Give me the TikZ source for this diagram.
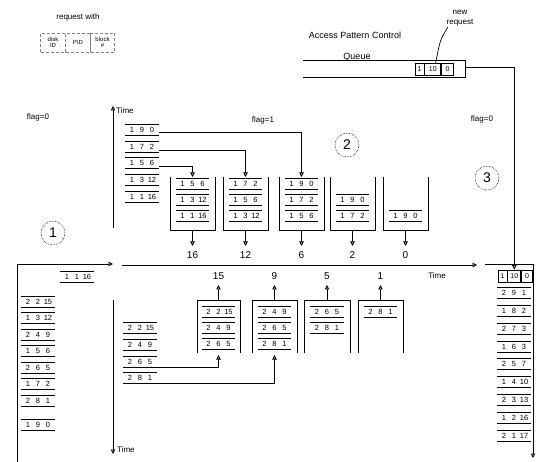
\documentclass[tikz,border=0pt]{standalone}
\usepackage{fontspec}
\setmainfont{Liberation Sans}
\usetikzlibrary{arrows.meta}
\newcommand\rsl[1]{\makebox[10pt]{#1}}
\newcommand\recnode[5]{%
  \node[rec] (#1) at (#2) {\rsl{#3}\rsl{#4}\rsl{#5}};
  \draw[recl] (#1.north west) -- (#1.north east);
  \draw[recl] (#1.south west) -- (#1.south east);}
\tikzset{
  rec/.style={inner sep=0pt, minimum width=33pt, minimum height=11pt, font=\fontsize{7.5}{8}\selectfont},
  recl/.style={line width=0.6pt},
  wire/.style={line width=0.9pt},
  arr/.style={wire, -{Triangle[open, length=4.5pt, width=4.5pt]}},
  openbox/.style={line width=0.9pt},
  lbl/.style={font=\fontsize{8}{9.5}\selectfont, inner sep=0pt},
  lblb/.style={font=\fontsize{9}{10}\selectfont, inner sep=0pt},
  num/.style={font=\fontsize{10}{11}\selectfont, inner sep=0pt},
  circ/.style={circle, draw, densely dotted, line width=0.6pt, minimum size=24pt, inner sep=0pt, font=\fontsize{14}{14}\selectfont},
  cell/.style={draw, line width=0.8pt, minimum height=12pt, inner sep=0pt, font=\fontsize{7}{8}\selectfont},
  fld/.style={draw, densely dashed, gray, text=black, line width=0.5pt, minimum height=19pt, inner sep=0pt, align=center, font=\fontsize{6}{6.5}\selectfont},
}
\begin{document}
\begin{tikzpicture}[x=1pt,y=-1pt]
\useasboundingbox (0,0) rectangle (538,462);

% request format
\node[lbl] (reqw) at (78,17) {request with};
\node[fld, minimum width=25pt] (fdisk) at (53,42.5) {disk\\ID};
\node[fld, minimum width=25pt] (fpid) at (78,42.5) {PID};
\node[fld, minimum width=24pt] (fblock) at (102.5,42.5) {block\\\#};

% queue
\node[lblb] (apc) at (355,35) {Access Pattern Control};
\node[lblb] (qlab) at (357,57) {Queue};
\coordinate (q0) at (303,60);
\coordinate (q1) at (465,60);
\coordinate (q2) at (465,77);
\coordinate (q3) at (303,77);
\coordinate (qend) at (465,67);
\draw[wire] (q0) -- (q1) -- (q2) -- (q3);
\node[cell, minimum width=9pt] (qa) at (419.5,69) {1};
\node[cell, minimum width=16pt, anchor=west] (qb) at (qa.east) {10};
\node[cell, minimum width=12pt, anchor=west] (qc) at (qb.east) {0};
\node[lbl, align=center] (newreq) at (460,18) {new\\request};
\draw[line width=0.7pt] ([xshift=-12pt,yshift=-1pt]newreq.south) .. controls (440,40) .. ([xshift=3pt]qb.north);

% right column
\node[cell, minimum width=9pt] (ra) at (502.5,276) {1};
\node[cell, minimum width=13pt, anchor=west] (rb) at (ra.east) {10};
\node[cell, minimum width=11pt, anchor=west] (rc) at (rb.east) {0};
\draw[arr] (qend) -| (rb.north);
\node[lbl] (flagr) at (482,119) {flag=0};
\node[circ] (c3) at (487,178) {3};
\recnode{r2}{514,293}{2}{9}{1}
\recnode{r3}{514,311}{1}{8}{2}
\recnode{r4}{514,329}{2}{7}{3}
\recnode{r5}{514,347}{1}{6}{3}
\recnode{r6}{514,364}{2}{5}{7}
\recnode{r7}{514,382}{1}{4}{10}
\recnode{r8}{514,400}{2}{3}{13}
\recnode{r9}{514,418}{1}{2}{16}
\recnode{r10}{514,436}{2}{1}{17}
\coordinate (rf0) at (485,264);
\coordinate (rf1) at (533,264);
\coordinate (rf2) at (533,458);
\draw[wire] (rf0) -- (rf1);
\draw[arr] (rf1) -- (rf2);

% main time axis
\coordinate (ax0) at (122,265);
\coordinate (ax1) at (477,265);
\draw[arr] (ax0) -- (ax1);
\node[lbl] (taxis) at (437,276) {Time};

% left frame
\coordinate (lf0) at (17,462);
\coordinate (lf1) at (17,264);
\coordinate (lf2) at (113,264);
\draw[arr] (lf0) -- (lf1) -- (lf2);
\node[lbl] (flagl) at (38,117) {flag=0};
\node[circ] (c1) at (53,233) {1};
\node[lbl] (flag1) at (263,120) {flag=1};
\node[circ] (c2) at (347,145) {2};

% upper vertical axis
\coordinate (uv0) at (113,228);
\coordinate (uv1) at (113,106);
\draw[arr] (uv0) -- (uv1);
\node[lbl, anchor=west] (ut) at (116,111) {Time};

% upper stack
\recnode{s1}{142,130}{1}{9}{0}
\recnode{s2}{142,147}{1}{7}{2}
\recnode{s3}{142,163}{1}{5}{6}
\recnode{s4}{142,180}{1}{3}{12}
\recnode{s5}{142,197}{1}{1}{16}

% upper boxes (open top)
\draw[openbox] (170,177) -- (170,230) -- (215,230) -- (215,177);
\draw[openbox] (223,177) -- (223,230) -- (268,230) -- (268,177);
\draw[openbox] (279,177) -- (279,230) -- (324,230) -- (324,177);
\draw[openbox] (330,177) -- (330,230) -- (375,230) -- (375,177);
\draw[openbox] (383,177) -- (383,230) -- (428,230) -- (428,177);
\coordinate (b1in) at (192.5,177);
\coordinate (b2in) at (245.5,177);
\coordinate (b3in) at (301.5,177);
\foreach \n/\x in {1/192.5,2/245.5,3/301.5,4/352.5,5/405.5}{
  \coordinate (b\n bot) at (\x,230);
  \coordinate (b\n out) at (\x,246);
}
\draw[arr] ([yshift=-3pt]s3.east) -| (b1in);
\draw[arr] ([yshift=-3pt]s2.east) -| (b2in);
\draw[arr] ([yshift=-2pt]s1.east) -| (b3in);
\recnode{b1r1}{192.5,184}{1}{5}{6}
\recnode{b1r2}{192.5,200}{1}{3}{12}
\recnode{b1r3}{192.5,216}{1}{1}{16}
\recnode{b2r1}{245.5,184}{1}{7}{2}
\recnode{b2r2}{245.5,200}{1}{5}{6}
\recnode{b2r3}{245.5,216}{1}{3}{12}
\recnode{b3r1}{301.5,184}{1}{9}{0}
\recnode{b3r2}{301.5,200}{1}{7}{2}
\recnode{b3r3}{301.5,216}{1}{5}{6}
\recnode{b4r2}{352.5,200}{1}{9}{0}
\recnode{b4r3}{352.5,216}{1}{7}{2}
\recnode{b5r3}{405.5,216}{1}{9}{0}
\foreach \n in {1,...,5}{\draw[arr] (b\n bot) -- (b\n out);}
\node[num] (n16) at (192.5,255) {16};
\node[num] (n12) at (245.5,255) {12};
\node[num] (n6) at (301.5,255) {6};
\node[num] (n2) at (352.5,255) {2};
\node[num] (n0) at (405.5,255) {0};

% lower vertical axis
\coordinate (lv0) at (113,300);
\coordinate (lv1) at (113,454);
\draw[arr] (lv0) -- (lv1);
\node[lbl, anchor=west] (lt) at (117,450) {Time};

% lower stack
\recnode{t1}{140,328}{2}{2}{15}
\recnode{t2}{140,345}{2}{4}{9}
\recnode{t3}{140,362}{2}{6}{5}
\recnode{t4}{140,378}{2}{8}{1}

% lower boxes (open bottom)
\draw[openbox] (197,353) -- (197,300) -- (240,300) -- (240,353);
\draw[openbox] (252,353) -- (252,300) -- (297,300) -- (297,353);
\draw[openbox] (304,353) -- (304,300) -- (350,300) -- (350,353);
\draw[openbox] (358,353) -- (358,300) -- (403,300) -- (403,353);
\foreach \n/\x in {A/218.5,B/274.5,C/327,D/380.5}{
  \coordinate (\n top) at (\x,300);
  \coordinate (\n out) at (\x,285);
  \draw[arr] (\n top) -- (\n out);
}
\coordinate (Ain) at (218.5,355);
\coordinate (Bin) at (274.5,355);
\draw[arr] (t3.south east) -| (Ain);
\draw[arr] (t4.south east) -| (Bin);
\recnode{ar1}{218.5,312}{2}{2}{15}
\recnode{ar2}{218.5,328}{2}{4}{9}
\recnode{ar3}{218.5,344}{2}{6}{5}
\recnode{br1}{274.5,312}{2}{4}{9}
\recnode{br2}{274.5,328}{2}{6}{5}
\recnode{br3}{274.5,344}{2}{8}{1}
\recnode{cr1}{327,312}{2}{6}{5}
\recnode{cr2}{327,328}{2}{8}{1}
\recnode{dr1}{380.5,312}{2}{8}{1}
\node[num] (n15) at (218.5,276) {15};
\node[num] (n9) at (274.5,276) {9};
\node[num] (n5) at (327,276) {5};
\node[num] (n1) at (380.5,276) {1};

% left outer column
\recnode{l0}{77,277}{1}{1}{16}
\recnode{l1}{38,302}{2}{2}{15}
\recnode{l2}{38,318}{1}{3}{12}
\recnode{l3}{38,335}{2}{4}{9}
\recnode{l4}{38,351}{1}{5}{6}
\recnode{l5}{38,368}{2}{6}{5}
\recnode{l6}{38,384}{1}{7}{2}
\recnode{l7}{38,401}{2}{8}{1}
\recnode{l8}{38,425}{1}{9}{0}
\end{tikzpicture}
\end{document}
